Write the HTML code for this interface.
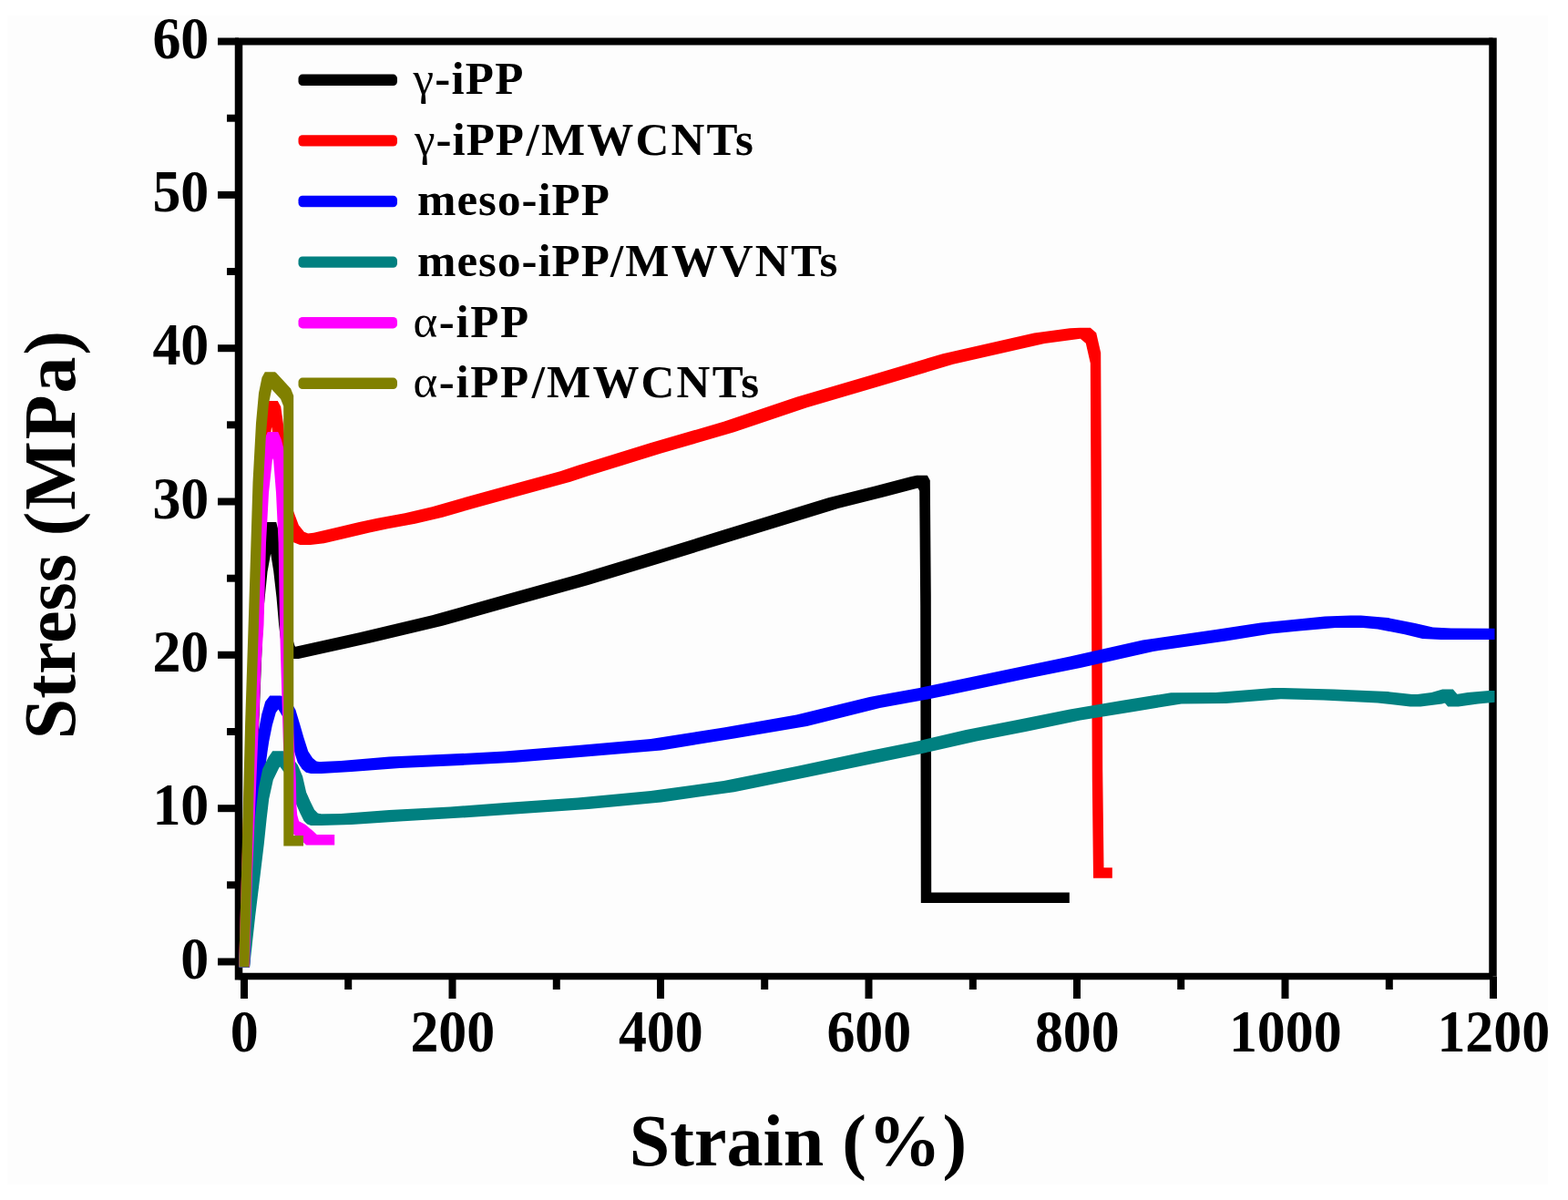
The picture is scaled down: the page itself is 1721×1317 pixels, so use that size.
<!DOCTYPE html>
<html lang="en">
<head>
<meta charset="utf-8">
<title>Stress-strain curves</title>
<style>
html,body{margin:0;padding:0;background:#ffffff;}
body{width:1721px;height:1317px;overflow:hidden;}
svg{display:block;}
text{font-family:"Liberation Serif","DejaVu Serif",serif;font-weight:bold;fill:#000;}
.tick{font-size:65.5px;}
.title{font-size:80px;}
.leg{font-size:51px;}
.g{font-weight:normal;}
</style>
</head>
<body>
<svg width="1721" height="1317" viewBox="0 0 1721 1317">
<rect x="0" y="0" width="1721" height="1317" fill="#ffffff"/>
<rect x="8" y="17" width="1691" height="1283" fill="#fdfdfd"/>

<g stroke="#000" fill="none" stroke-linecap="butt">
<path d="M262.0,45.5 V1075.5" stroke-width="8.5"/>
<path d="M1638.5,41.5 V1071.5" stroke-width="8.5"/>
<path d="M258.0,45.5 H1638.5" stroke-width="8"/>
<path d="M262.0,1071.5 H1638.5" stroke-width="7.5"/>
<path d="M239,1055.5 H262.0" stroke-width="8"/>
<path d="M249,971.3 H262.0" stroke-width="8"/>
<path d="M239,887.2 H262.0" stroke-width="8"/>
<path d="M249,803.0 H262.0" stroke-width="8"/>
<path d="M239,718.8 H262.0" stroke-width="8"/>
<path d="M249,634.7 H262.0" stroke-width="8"/>
<path d="M239,550.5 H262.0" stroke-width="8"/>
<path d="M249,466.3 H262.0" stroke-width="8"/>
<path d="M239,382.2 H262.0" stroke-width="8"/>
<path d="M249,298.0 H262.0" stroke-width="8"/>
<path d="M239,213.9 H262.0" stroke-width="8"/>
<path d="M249,129.7 H262.0" stroke-width="8"/>
<path d="M239,45.5 H262.0" stroke-width="8"/>
<path d="M268.0,1071.5 V1096" stroke-width="8"/>
<path d="M382.2,1071.5 V1086" stroke-width="8"/>
<path d="M496.5,1071.5 V1096" stroke-width="8"/>
<path d="M610.8,1071.5 V1086" stroke-width="8"/>
<path d="M725.0,1071.5 V1096" stroke-width="8"/>
<path d="M839.2,1071.5 V1086" stroke-width="8"/>
<path d="M953.5,1071.5 V1096" stroke-width="8"/>
<path d="M1067.8,1071.5 V1086" stroke-width="8"/>
<path d="M1182.0,1071.5 V1096" stroke-width="8"/>
<path d="M1296.2,1071.5 V1086" stroke-width="8"/>
<path d="M1410.5,1071.5 V1096" stroke-width="8"/>
<path d="M1524.8,1071.5 V1086" stroke-width="8"/>
<path d="M1639.0,1071.5 V1096" stroke-width="8"/>
</g>
<clipPath id="plotclip"><rect x="255" y="30" width="1385.5" height="1050"/></clipPath>
<g stroke="none" fill-rule="nonzero" clip-path="url(#plotclip)">
<path d="M262.5,1049.8 266.2,954.2 277.8,954.2 277.8,965.8 274.0,1061.2 262.5,1061.2ZM266.2,954.2 272.2,794.2 283.8,794.2 283.8,805.8 277.8,965.8 266.2,965.8ZM272.2,794.2 277.8,659.2 289.2,659.2 289.2,670.8 283.8,805.8 272.2,805.8ZM277.8,659.2 282.0,616.2 293.5,616.2 293.5,627.8 289.2,670.8 277.8,670.8ZM282.0,616.2 286.8,590.2 298.2,590.2 298.2,601.8 293.5,627.8 282.0,627.8ZM286.8,590.2 291.8,572.9 303.2,572.9 303.2,584.4 298.2,601.8 286.8,601.8ZM291.8,572.9 303.2,572.9 307.8,590.2 307.8,601.8 296.2,601.8 291.8,584.4ZM296.2,590.2 307.8,590.2 311.8,615.2 311.8,626.8 300.2,626.8 296.2,601.8ZM300.2,615.2 311.8,615.2 315.0,644.2 315.0,655.8 303.5,655.8 300.2,626.8ZM303.5,644.2 315.0,644.2 317.6,674.2 317.6,685.8 306.1,685.8 303.5,655.8ZM306.1,674.2 317.6,674.2 320.8,700.2 320.8,711.8 309.2,711.8 306.1,685.8ZM309.2,700.2 320.8,700.2 324.2,710.8 324.2,722.2 312.8,722.2 309.2,711.8ZM312.8,710.8 324.2,710.8 327.8,711.6 327.8,723.1 316.2,723.1 312.8,722.2ZM316.2,711.6 394.2,694.2 405.8,694.2 405.8,705.8 327.8,723.1 316.2,723.1ZM394.2,694.2 474.2,675.2 485.8,675.2 485.8,686.8 405.8,705.8 394.2,705.8ZM474.2,675.2 554.2,652.8 565.8,652.8 565.8,664.2 485.8,686.8 474.2,686.8ZM554.2,652.8 634.2,630.5 645.8,630.5 645.8,642.0 565.8,664.2 554.2,664.2ZM634.2,630.5 714.2,606.2 725.8,606.2 725.8,617.8 645.8,642.0 634.2,642.0ZM714.2,606.2 794.2,581.6 805.8,581.6 805.8,593.1 725.8,617.8 714.2,617.8ZM794.2,581.6 834.2,569.2 845.8,569.2 845.8,580.8 805.8,593.1 794.2,593.1ZM834.2,569.2 909.2,546.2 920.8,546.2 920.8,557.8 845.8,580.8 834.2,580.8ZM909.2,546.2 959.2,533.8 970.8,533.8 970.8,545.2 920.8,557.8 909.2,557.8ZM959.2,533.8 999.2,523.2 1010.8,523.2 1010.8,534.8 970.8,545.2 959.2,545.2ZM999.2,523.2 1006.2,521.8 1017.8,521.8 1017.8,533.2 1010.8,534.8 999.2,534.8ZM1006.2,521.8 1017.8,521.8 1020.8,527.2 1020.8,538.8 1009.2,538.8 1006.2,533.2ZM1009.2,527.2 1020.8,527.2 1021.8,654.2 1021.8,665.8 1010.2,665.8 1009.2,538.8ZM1010.2,654.2 1021.8,654.2 1022.2,979.5 1022.2,991.0 1010.8,991.0 1010.2,665.8ZM1010.8,979.5 1162.2,979.5 1173.8,979.5 1173.8,991.0 1022.2,991.0 1010.8,991.0Z" fill="#000000"/>
<path d="M262.5,1049.8 265.2,954.2 276.8,954.2 276.8,965.8 274.0,1061.2 262.5,1061.2ZM265.2,954.2 270.2,794.2 281.8,794.2 281.8,805.8 276.8,965.8 265.2,965.8ZM270.2,794.2 275.2,674.2 286.8,674.2 286.8,685.8 281.8,805.8 270.2,805.8ZM275.2,674.2 280.2,554.2 291.8,554.2 291.8,565.8 286.8,685.8 275.2,685.8ZM280.2,554.2 283.8,484.2 295.2,484.2 295.2,495.8 291.8,565.8 280.2,565.8ZM283.8,484.2 286.2,459.2 297.8,459.2 297.8,470.8 295.2,495.8 283.8,495.8ZM286.2,459.2 289.8,444.2 301.2,444.2 301.2,455.8 297.8,470.8 286.2,470.8ZM289.8,444.2 293.2,439.9 304.8,439.9 304.8,451.4 301.2,455.8 289.8,455.8ZM293.2,439.9 304.8,439.9 308.2,446.2 308.2,457.8 296.8,457.8 293.2,451.4ZM296.8,446.2 308.2,446.2 310.8,464.2 310.8,475.8 299.2,475.8 296.8,457.8ZM299.2,464.2 310.8,464.2 313.8,494.2 313.8,505.8 302.2,505.8 299.2,475.8ZM302.2,494.2 313.8,494.2 316.8,534.2 316.8,545.8 305.2,545.8 302.2,505.8ZM305.2,534.2 316.8,534.2 321.8,560.2 321.8,571.8 310.2,571.8 305.2,545.8ZM310.2,560.2 321.8,560.2 327.8,576.2 327.8,587.8 316.2,587.8 310.2,571.8ZM316.2,576.2 327.8,576.2 333.8,583.8 333.8,595.2 322.2,595.2 316.2,587.8ZM322.2,583.8 333.8,583.8 340.8,586.5 340.8,598.0 329.2,598.0 322.2,595.2ZM329.2,586.5 344.2,584.8 355.8,584.8 355.8,596.2 340.8,598.0 329.2,598.0ZM344.2,584.8 365.8,579.8 377.2,579.8 377.2,591.2 355.8,596.2 344.2,596.2ZM365.8,579.8 394.2,572.9 405.8,572.9 405.8,584.4 377.2,591.2 365.8,591.2ZM394.2,572.9 414.2,568.8 425.8,568.8 425.8,580.2 405.8,584.4 394.2,584.4ZM414.2,568.8 444.2,563.2 455.8,563.2 455.8,574.8 425.8,580.2 414.2,580.2ZM444.2,563.2 474.2,556.2 485.8,556.2 485.8,567.8 455.8,574.8 444.2,574.8ZM474.2,556.2 514.2,544.8 525.8,544.8 525.8,556.2 485.8,567.8 474.2,567.8ZM514.2,544.8 554.2,533.8 565.8,533.8 565.8,545.2 525.8,556.2 514.2,556.2ZM554.2,533.8 614.8,517.2 626.2,517.2 626.2,528.8 565.8,545.2 554.2,545.2ZM614.8,517.2 634.2,510.8 645.8,510.8 645.8,522.2 626.2,528.8 614.8,528.8ZM634.2,510.8 714.2,486.1 725.8,486.1 725.8,497.6 645.8,522.2 634.2,522.2ZM714.2,486.1 794.2,462.8 805.8,462.8 805.8,474.2 725.8,497.6 714.2,497.6ZM794.2,462.8 874.2,435.8 885.8,435.8 885.8,447.2 805.8,474.2 794.2,474.2ZM874.2,435.8 954.2,412.2 965.8,412.2 965.8,423.8 885.8,447.2 874.2,447.2ZM954.2,412.2 1034.8,388.2 1046.2,388.2 1046.2,399.8 965.8,423.8 954.2,423.8ZM1034.8,388.2 1135.0,365.6 1146.5,365.6 1146.5,377.1 1046.2,399.8 1034.8,399.8ZM1135.0,365.6 1174.2,360.2 1185.8,360.2 1185.8,371.8 1146.5,377.1 1135.0,377.1ZM1174.2,360.2 1185.2,359.8 1196.8,359.8 1196.8,371.2 1185.8,371.8 1174.2,371.8ZM1185.2,359.8 1196.8,359.8 1203.2,365.2 1203.2,376.8 1191.8,376.8 1185.2,371.2ZM1191.8,365.2 1203.2,365.2 1208.2,387.2 1208.2,398.8 1196.8,398.8 1191.8,376.8ZM1196.8,387.2 1208.2,387.2 1209.5,654.2 1209.5,665.8 1198.0,665.8 1196.8,398.8ZM1198.0,654.2 1209.5,654.2 1210.2,844.2 1210.2,855.8 1198.8,855.8 1198.0,665.8ZM1198.8,844.2 1210.2,844.2 1211.5,952.2 1211.5,963.8 1200.0,963.8 1198.8,855.8ZM1200.0,952.2 1209.2,952.2 1220.8,952.2 1220.8,963.8 1211.5,963.8 1200.0,963.8Z" fill="#ff0000"/>
<path d="M262.5,1049.3 268.2,953.9 279.8,953.9 279.8,966.1 274.0,1061.7 262.5,1061.7ZM268.2,953.9 274.2,883.9 285.8,883.9 285.8,896.1 279.8,966.1 268.2,966.1ZM274.2,883.9 279.2,833.9 290.8,833.9 290.8,846.1 285.8,896.1 274.2,896.1ZM279.2,833.9 281.9,813.9 293.4,813.9 293.4,826.1 290.8,846.1 279.2,846.1ZM281.9,813.9 283.8,801.9 295.2,801.9 295.2,814.1 293.4,826.1 281.9,826.1ZM283.8,801.9 287.2,783.9 298.8,783.9 298.8,796.1 295.2,814.1 283.8,814.1ZM287.2,783.9 291.2,769.9 302.8,769.9 302.8,782.1 298.8,796.1 287.2,796.1ZM291.2,769.9 296.2,763.4 307.8,763.4 307.8,775.6 302.8,782.1 291.2,782.1ZM296.2,763.4 307.8,763.4 316.8,765.9 316.8,778.1 305.2,778.1 296.2,775.6ZM305.2,765.9 316.8,765.9 324.4,778.9 324.4,791.1 312.9,791.1 305.2,778.1ZM312.9,778.9 324.4,778.9 329.2,794.9 329.2,807.1 317.8,807.1 312.9,791.1ZM317.8,794.9 329.2,794.9 333.4,809.4 333.4,821.6 321.9,821.6 317.8,807.1ZM321.9,809.4 333.4,809.4 338.2,824.6 338.2,836.9 326.8,836.9 321.9,821.6ZM326.8,824.6 338.2,824.6 343.1,831.9 343.1,844.1 331.6,844.1 326.8,836.9ZM331.6,831.9 343.1,831.9 347.4,835.5 347.4,847.8 335.9,847.8 331.6,844.1ZM335.9,835.5 347.4,835.5 352.8,836.6 352.8,848.9 341.2,848.9 335.9,847.8ZM341.2,836.6 374.2,834.9 385.8,834.9 385.8,847.1 352.8,848.9 341.2,848.9ZM374.2,834.9 427.2,830.6 438.8,830.6 438.8,842.9 385.8,847.1 374.2,847.1ZM427.2,830.6 494.2,827.6 505.8,827.6 505.8,839.9 438.8,842.9 427.2,842.9ZM494.2,827.6 554.2,824.5 565.8,824.5 565.8,836.8 505.8,839.9 494.2,839.9ZM554.2,824.5 634.2,818.0 645.8,818.0 645.8,830.2 565.8,836.8 554.2,836.8ZM634.2,818.0 714.2,811.1 725.8,811.1 725.8,823.4 645.8,830.2 634.2,830.2ZM714.2,811.1 794.2,798.4 805.8,798.4 805.8,810.6 725.8,823.4 714.2,823.4ZM794.2,798.4 874.2,784.6 885.8,784.6 885.8,796.9 805.8,810.6 794.2,810.6ZM874.2,784.6 954.2,764.9 965.8,764.9 965.8,777.1 885.8,796.9 874.2,796.9ZM954.2,764.9 1009.2,754.9 1020.8,754.9 1020.8,767.1 965.8,777.1 954.2,777.1ZM1009.2,754.9 1114.2,732.9 1125.8,732.9 1125.8,745.1 1020.8,767.1 1009.2,767.1ZM1114.2,732.9 1174.2,720.6 1185.8,720.6 1185.8,732.9 1125.8,745.1 1114.2,745.1ZM1174.2,720.6 1254.2,702.6 1265.8,702.6 1265.8,714.9 1185.8,732.9 1174.2,732.9ZM1254.2,702.6 1334.2,691.1 1345.8,691.1 1345.8,703.4 1265.8,714.9 1254.2,714.9ZM1334.2,691.1 1383.7,683.4 1395.2,683.4 1395.2,695.6 1345.8,703.4 1334.2,703.4ZM1383.7,683.4 1414.2,680.4 1425.8,680.4 1425.8,692.6 1395.2,695.6 1383.7,695.6ZM1414.2,680.4 1454.2,676.6 1465.8,676.6 1465.8,688.9 1425.8,692.6 1414.2,692.6ZM1454.2,676.6 1482.2,675.5 1493.8,675.5 1493.8,687.8 1465.8,688.9 1454.2,688.9ZM1482.2,675.5 1493.8,675.5 1523.5,678.1 1523.5,690.4 1512.0,690.4 1482.2,687.8ZM1512.0,678.1 1523.5,678.1 1553.2,684.0 1553.2,696.2 1541.7,696.2 1512.0,690.4ZM1541.7,684.0 1553.2,684.0 1572.8,688.6 1572.8,700.9 1561.2,700.9 1541.7,696.2ZM1561.2,688.6 1572.8,688.6 1592.8,689.6 1592.8,701.9 1581.2,701.9 1561.2,700.9ZM1581.2,689.6 1592.8,689.6 1645.8,689.9 1645.8,702.1 1634.2,702.1 1581.2,701.9Z" fill="#0000ff"/>
<path d="M262.5,1049.3 268.6,993.9 280.1,993.9 280.1,1006.1 274.0,1061.7 262.5,1061.7ZM268.6,993.9 274.8,943.9 286.2,943.9 286.2,956.1 280.1,1006.1 268.6,1006.1ZM274.8,943.9 278.2,913.9 289.8,913.9 289.8,926.1 286.2,956.1 274.8,956.1ZM278.2,913.9 281.1,886.9 292.6,886.9 292.6,899.1 289.8,926.1 278.2,926.1ZM281.1,886.9 283.8,864.9 295.2,864.9 295.2,877.1 292.6,899.1 281.1,899.1ZM283.8,864.9 288.2,843.9 299.8,843.9 299.8,856.1 295.2,877.1 283.8,877.1ZM288.2,843.9 294.6,830.9 306.1,830.9 306.1,843.1 299.8,856.1 288.2,856.1ZM294.6,830.9 299.2,824.2 310.8,824.2 310.8,836.5 306.1,843.1 294.6,843.1ZM299.2,824.2 310.8,824.2 317.8,827.9 317.8,840.1 306.2,840.1 299.2,836.5ZM306.2,827.9 317.8,827.9 326.8,839.6 326.8,851.9 315.2,851.9 306.2,840.1ZM315.2,839.6 326.8,839.6 332.1,851.9 332.1,864.1 320.6,864.1 315.2,851.9ZM320.6,851.9 332.1,851.9 336.1,869.4 336.1,881.6 324.6,881.6 320.6,864.1ZM324.6,869.4 336.1,869.4 340.9,880.2 340.9,892.5 329.4,892.5 324.6,881.6ZM329.4,880.2 340.9,880.2 345.1,888.8 345.1,901.0 333.6,901.0 329.4,892.5ZM333.6,888.8 345.1,888.8 348.8,892.4 348.8,904.6 337.2,904.6 333.6,901.0ZM337.2,892.4 348.8,892.4 352.8,893.6 352.8,905.9 341.2,905.9 337.2,904.6ZM341.2,893.6 374.2,892.9 385.8,892.9 385.8,905.1 352.8,905.9 341.2,905.9ZM374.2,892.9 427.2,889.1 438.8,889.1 438.8,901.4 385.8,905.1 374.2,905.1ZM427.2,889.1 494.2,885.4 505.8,885.4 505.8,897.6 438.8,901.4 427.2,901.4ZM494.2,885.4 554.2,881.1 565.8,881.1 565.8,893.4 505.8,897.6 494.2,897.6ZM554.2,881.1 634.2,875.6 645.8,875.6 645.8,887.9 565.8,893.4 554.2,893.4ZM634.2,875.6 714.2,868.1 725.8,868.1 725.8,880.4 645.8,887.9 634.2,887.9ZM714.2,868.1 794.2,857.0 805.8,857.0 805.8,869.2 725.8,880.4 714.2,880.4ZM794.2,857.0 874.2,840.9 885.8,840.9 885.8,853.1 805.8,869.2 794.2,869.2ZM874.2,840.9 954.2,824.1 965.8,824.1 965.8,836.4 885.8,853.1 874.2,853.1ZM954.2,824.1 1009.2,812.9 1020.8,812.9 1020.8,825.1 965.8,836.4 954.2,836.4ZM1009.2,812.9 1060.2,801.1 1071.8,801.1 1071.8,813.4 1020.8,825.1 1009.2,825.1ZM1060.2,801.1 1114.2,790.6 1125.8,790.6 1125.8,802.9 1071.8,813.4 1060.2,813.4ZM1114.2,790.6 1174.2,778.4 1185.8,778.4 1185.8,790.6 1125.8,802.9 1114.2,802.9ZM1174.2,778.4 1230.2,769.1 1241.8,769.1 1241.8,781.4 1185.8,790.6 1174.2,790.6ZM1230.2,769.1 1285.2,760.2 1296.8,760.2 1296.8,772.5 1241.8,781.4 1230.2,781.4ZM1285.2,760.2 1334.2,759.9 1345.8,759.9 1345.8,772.1 1296.8,772.5 1285.2,772.5ZM1334.2,759.9 1397.2,754.9 1408.8,754.9 1408.8,767.1 1345.8,772.1 1334.2,772.1ZM1397.2,754.9 1408.8,754.9 1464.2,756.4 1464.2,768.6 1452.8,768.6 1397.2,767.1ZM1452.8,756.4 1464.2,756.4 1523.5,759.1 1523.5,771.4 1512.0,771.4 1452.8,768.6ZM1512.0,759.1 1523.5,759.1 1559.2,763.1 1559.2,775.4 1547.7,775.4 1512.0,771.4ZM1547.7,763.1 1571.2,760.1 1582.8,760.1 1582.8,772.4 1559.2,775.4 1547.7,775.4ZM1571.2,760.1 1583.2,756.4 1594.8,756.4 1594.8,768.6 1582.8,772.4 1571.2,772.4ZM1583.2,756.4 1594.8,756.4 1600.8,763.4 1600.8,775.6 1589.2,775.6 1583.2,768.6ZM1589.2,763.4 1610.8,760.1 1622.3,760.1 1622.3,772.4 1600.8,775.6 1589.2,775.6ZM1610.8,760.1 1634.2,758.1 1645.8,758.1 1645.8,770.4 1622.3,772.4 1610.8,772.4Z" fill="#008080"/>
<path d="M262.5,1049.8 265.2,954.2 276.8,954.2 276.8,965.8 274.0,1061.2 262.5,1061.2ZM265.2,954.2 270.2,834.2 281.8,834.2 281.8,845.8 276.8,965.8 265.2,965.8ZM270.2,834.2 275.2,714.2 286.8,714.2 286.8,725.8 281.8,845.8 270.2,845.8ZM275.2,714.2 278.0,674.2 289.5,674.2 289.5,685.8 286.8,725.8 275.2,725.8ZM278.0,674.2 280.5,584.2 292.0,584.2 292.0,595.8 289.5,685.8 278.0,685.8ZM280.5,584.2 283.5,529.2 295.0,529.2 295.0,540.8 292.0,595.8 280.5,595.8ZM283.5,529.2 287.2,494.2 298.8,494.2 298.8,505.8 295.0,540.8 283.5,540.8ZM287.2,494.2 290.2,482.2 301.8,482.2 301.8,493.8 298.8,505.8 287.2,505.8ZM290.2,482.2 293.8,474.0 305.2,474.0 305.2,485.5 301.8,493.8 290.2,493.8ZM293.8,474.0 305.2,474.0 308.8,482.2 308.8,493.8 297.2,493.8 293.8,485.5ZM297.2,482.2 308.8,482.2 311.8,494.2 311.8,505.8 300.2,505.8 297.2,493.8ZM300.2,494.2 311.8,494.2 314.5,529.2 314.5,540.8 303.0,540.8 300.2,505.8ZM303.0,529.2 314.5,529.2 317.1,584.2 317.1,595.8 305.6,595.8 303.0,540.8ZM305.6,584.2 317.1,584.2 318.5,674.2 318.5,685.8 307.0,685.8 305.6,595.8ZM307.0,674.2 318.5,674.2 319.8,714.2 319.8,725.8 308.2,725.8 307.0,685.8ZM308.2,714.2 319.8,714.2 322.4,804.2 322.4,815.8 310.9,815.8 308.2,725.8ZM310.9,804.2 322.4,804.2 324.8,854.2 324.8,865.8 313.2,865.8 310.9,815.8ZM313.2,854.2 324.8,854.2 325.4,884.2 325.4,895.8 313.9,895.8 313.2,865.8ZM313.9,884.2 325.4,884.2 326.2,894.2 326.2,905.8 314.8,905.8 313.9,895.8ZM314.8,894.2 326.2,894.2 328.1,901.2 328.1,912.8 316.6,912.8 314.8,905.8ZM316.6,901.2 328.1,901.2 334.8,904.8 334.8,916.2 323.2,916.2 316.6,912.8ZM323.2,904.8 334.8,904.8 343.8,912.2 343.8,923.8 332.2,923.8 323.2,916.2ZM332.2,912.2 343.8,912.2 347.8,916.0 347.8,927.5 336.2,927.5 332.2,923.8ZM336.2,916.0 355.8,916.0 367.2,916.0 367.2,927.5 347.8,927.5 336.2,927.5Z" fill="#ff00ff"/>
<path d="M262.5,1049.8 265.1,954.2 276.1,954.2 276.1,965.8 273.5,1061.2 262.5,1061.2ZM265.1,954.2 269.1,794.2 280.1,794.2 280.1,805.8 276.1,965.8 265.1,965.8ZM269.1,794.2 273.0,674.2 284.0,674.2 284.0,685.8 280.1,805.8 269.1,805.8ZM273.0,674.2 277.5,529.2 288.5,529.2 288.5,540.8 284.0,685.8 273.0,685.8ZM277.5,529.2 281.0,464.2 292.0,464.2 292.0,475.8 288.5,540.8 277.5,540.8ZM281.0,464.2 284.0,431.2 295.0,431.2 295.0,442.8 292.0,475.8 281.0,475.8ZM284.0,431.2 287.5,414.2 298.5,414.2 298.5,425.8 295.0,442.8 284.0,442.8ZM287.5,414.2 290.8,408.2 301.8,408.2 301.8,419.8 298.5,425.8 287.5,425.8ZM290.8,408.2 301.8,408.2 303.0,409.1 303.0,420.6 292.0,420.6 290.8,419.8ZM292.0,409.1 303.0,409.1 319.1,426.6 319.1,438.1 308.1,438.1 292.0,420.6ZM308.1,426.6 319.1,426.6 322.2,434.2 322.2,445.8 311.2,445.8 308.1,438.1ZM311.2,434.2 322.2,434.2 322.3,917.1 322.3,928.6 311.3,928.6 311.2,445.8ZM311.3,917.1 322.0,917.1 333.0,917.1 333.0,928.6 322.3,928.6 311.3,928.6Z" fill="#808000"/>
</g>
<text class="tick" transform="translate(229.3,1073.7) scale(0.945,1)" text-anchor="end">0</text>
<text class="tick" transform="translate(229.3,905.4) scale(0.945,1)" text-anchor="end">10</text>
<text class="tick" transform="translate(229.3,737.0) scale(0.945,1)" text-anchor="end">20</text>
<text class="tick" transform="translate(229.3,568.7) scale(0.945,1)" text-anchor="end">30</text>
<text class="tick" transform="translate(229.3,400.4) scale(0.945,1)" text-anchor="end">40</text>
<text class="tick" transform="translate(229.3,232.1) scale(0.945,1)" text-anchor="end">50</text>
<text class="tick" transform="translate(229.3,63.7) scale(0.945,1)" text-anchor="end">60</text>
<text class="tick" transform="translate(268.3,1154.3) scale(0.945,1)" text-anchor="middle">0</text>
<text class="tick" transform="translate(496.8,1154.3) scale(0.945,1)" text-anchor="middle">200</text>
<text class="tick" transform="translate(725.3,1154.3) scale(0.945,1)" text-anchor="middle">400</text>
<text class="tick" transform="translate(953.8,1154.3) scale(0.945,1)" text-anchor="middle">600</text>
<text class="tick" transform="translate(1182.3,1154.3) scale(0.945,1)" text-anchor="middle">800</text>
<text class="tick" transform="translate(1410.8,1154.3) scale(0.945,1)" text-anchor="middle">1000</text>
<text class="tick" transform="translate(1639.3,1154.3) scale(0.945,1)" text-anchor="middle">1200</text>
<text class="title" x="690.8" y="1279">Strain <tspan letter-spacing="1.9">(%)</tspan></text>
<text class="title" transform="translate(81.5,811.2) rotate(-90)">Stress <tspan letter-spacing="1.9">(MPa)</tspan></text>
<rect x="327.5" y="81.6" width="108.5" height="12.4" rx="4.5" fill="#000000"/>
<text class="leg" x="453.5" y="103.1" letter-spacing="1.2"><tspan class="g">γ</tspan>-iPP</text>
<rect x="327.5" y="148.2" width="108.5" height="12.4" rx="4.5" fill="#ff0000"/>
<text class="leg" x="455.0" y="169.7" letter-spacing="1.0"><tspan class="g">γ</tspan>-iPP<tspan dx="1.5" letter-spacing="2.2">/MWCNTs</tspan></text>
<rect x="327.5" y="214.8" width="108.5" height="12.4" rx="4.5" fill="#0000ff"/>
<text class="leg" x="458.0" y="236.3" letter-spacing="1.0">meso-iPP</text>
<rect x="327.5" y="281.4" width="108.5" height="12.4" rx="4.5" fill="#008080"/>
<text class="leg" x="458.0" y="302.9" letter-spacing="1.0">meso-iPP<tspan dx="0" letter-spacing="2.2">/MWVNTs</tspan></text>
<rect x="327.5" y="348.0" width="108.5" height="12.4" rx="4.5" fill="#ff00ff"/>
<text class="leg" x="453.5" y="369.5" letter-spacing="1.6"><tspan class="g">α</tspan>-iPP</text>
<rect x="327.5" y="414.6" width="108.5" height="12.4" rx="4.5" fill="#808000"/>
<text class="leg" x="453.5" y="436.1" letter-spacing="1.6"><tspan class="g">α</tspan>-iPP<tspan dx="2" letter-spacing="2.2">/MWCNTs</tspan></text>
</svg>
</body>
</html>
